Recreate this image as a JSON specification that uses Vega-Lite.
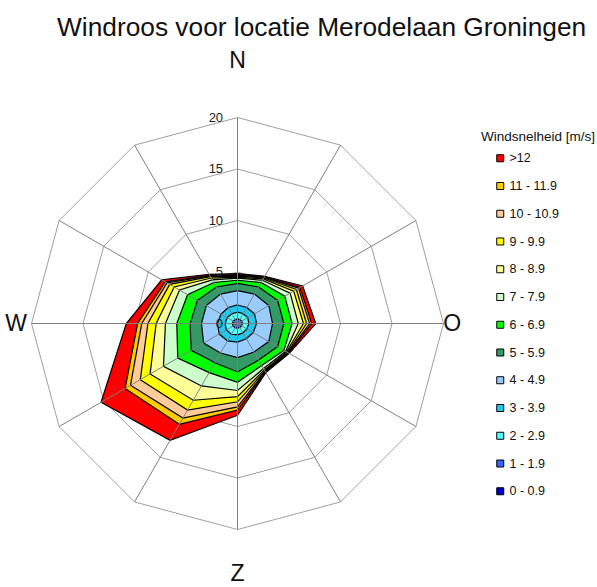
{
  "$schema": "https://vega.github.io/schema/vega-lite/v6.json",
  "width": 597,
  "height": 587,
  "autosize": {"type": "none"},
  "padding": 0,
  "background": "white",
  "config": {"view": {"stroke": null}, "font": "Liberation Sans"},
  "title": {
    "text": "Windroos voor locatie Merodelaan Groningen",
    "anchor": "start",
    "frame": "group",
    "dx": 57,
    "offset": -41,
    "fontSize": 26.3,
    "fontWeight": "normal",
    "font": "Liberation Sans",
    "color": "#111111"
  },
  "datasets": {
    "wind": [
      {"hoek": 0, "k0": 0.18, "k1": 0.45, "k2": 1.1, "k3": 1.8, "k4": 3.2, "k5": 3.9, "k6": 4.2, "k7": 4.4, "k8": 4.5, "k9": 4.6, "k10": 4.7, "k11": 4.75, "k12": 4.85},
      {"hoek": 30, "k0": 0.18, "k1": 0.45, "k2": 1.1, "k3": 1.8, "k4": 3.3, "k5": 4.1, "k6": 4.6, "k7": 4.85, "k8": 5.0, "k9": 5.1, "k10": 5.18, "k11": 5.23, "k12": 5.3},
      {"hoek": 60, "k0": 0.18, "k1": 0.47, "k2": 1.15, "k3": 1.9, "k4": 3.5, "k5": 4.5, "k6": 5.3, "k7": 5.9, "k8": 6.3, "k9": 6.6, "k10": 6.85, "k11": 7.0, "k12": 7.3},
      {"hoek": 90, "k0": 0.2, "k1": 0.47, "k2": 1.1, "k3": 1.85, "k4": 3.4, "k5": 4.5, "k6": 5.3, "k7": 5.9, "k8": 6.4, "k9": 6.7, "k10": 7.0, "k11": 7.2, "k12": 7.6},
      {"hoek": 120, "k0": 0.18, "k1": 0.45, "k2": 1.05, "k3": 1.75, "k4": 3.5, "k5": 4.5, "k6": 5.2, "k7": 5.4, "k8": 5.5, "k9": 5.6, "k10": 5.65, "k11": 5.7, "k12": 5.8},
      {"hoek": 150, "k0": 0.18, "k1": 0.45, "k2": 1.05, "k3": 1.7, "k4": 3.2, "k5": 4.1, "k6": 4.7, "k7": 5.05, "k8": 5.2, "k9": 5.3, "k10": 5.38, "k11": 5.44, "k12": 5.5},
      {"hoek": 180, "k0": 0.2, "k1": 0.45, "k2": 1.1, "k3": 1.8, "k4": 3.3, "k5": 4.7, "k6": 5.7, "k7": 6.5, "k8": 7.1, "k9": 7.6, "k10": 8.1, "k11": 8.4, "k12": 8.9},
      {"hoek": 210, "k0": 0.2, "k1": 0.47, "k2": 1.2, "k3": 1.95, "k4": 3.3, "k5": 4.4, "k6": 5.5, "k7": 7.0, "k8": 8.6, "k9": 9.7, "k10": 10.6, "k11": 11.3, "k12": 13.1},
      {"hoek": 240, "k0": 0.2, "k1": 0.5, "k2": 1.25, "k3": 2.05, "k4": 3.8, "k5": 5.2, "k6": 6.7, "k7": 8.3, "k8": 9.8, "k9": 10.9, "k10": 12.0, "k11": 12.6, "k12": 15.3},
      {"hoek": 270, "k0": 0.2, "k1": 0.5, "k2": 1.2, "k3": 1.95, "k4": 3.5, "k5": 4.6, "k6": 5.9, "k7": 7.0, "k8": 7.9, "k9": 8.7, "k10": 9.3, "k11": 9.7, "k12": 10.8},
      {"hoek": 300, "k0": 0.18, "k1": 0.47, "k2": 1.15, "k3": 1.85, "k4": 3.5, "k5": 4.5, "k6": 5.6, "k7": 6.5, "k8": 7.1, "k9": 7.6, "k10": 7.9, "k11": 8.1, "k12": 8.5},
      {"hoek": 330, "k0": 0.18, "k1": 0.45, "k2": 1.1, "k3": 1.8, "k4": 3.3, "k5": 4.1, "k6": 4.6, "k7": 4.9, "k8": 5.1, "k9": 5.25, "k10": 5.35, "k11": 5.4, "k12": 5.5}
    ],
    "richtingen": [
      {"hoek": 0, "ringen": [5, 10, 15, 20], "spaak": [0, 20]},
      {"hoek": 30, "ringen": [5, 10, 15, 20], "spaak": [0, 20]},
      {"hoek": 60, "ringen": [5, 10, 15, 20], "spaak": [0, 20]},
      {"hoek": 90, "ringen": [5, 10, 15, 20], "spaak": [0, 20]},
      {"hoek": 120, "ringen": [5, 10, 15, 20], "spaak": [0, 20]},
      {"hoek": 150, "ringen": [5, 10, 15, 20], "spaak": [0, 20]},
      {"hoek": 180, "ringen": [5, 10, 15, 20], "spaak": [0, 20]},
      {"hoek": 210, "ringen": [5, 10, 15, 20], "spaak": [0, 20]},
      {"hoek": 240, "ringen": [5, 10, 15, 20], "spaak": [0, 20]},
      {"hoek": 270, "ringen": [5, 10, 15, 20], "spaak": [0, 20]},
      {"hoek": 300, "ringen": [5, 10, 15, 20], "spaak": [0, 20]},
      {"hoek": 330, "ringen": [5, 10, 15, 20], "spaak": [0, 20]}
    ],
    "schaal": [{"v": 0}, {"v": 5}, {"v": 10}, {"v": 15}, {"v": 20}]
  },
  "layer": [
    {
      "data": {"name": "richtingen"},
      "transform": [
        {"flatten": ["ringen"], "as": ["ring"]},
        {"calculate": "datum.ring * sin(datum.hoek * PI / 180)", "as": "gx"},
        {"calculate": "datum.ring * cos(datum.hoek * PI / 180)", "as": "gy"}
      ],
      "mark": {"type": "line", "interpolate": "linear-closed", "stroke": "#a0a0a0", "strokeWidth": 1},
      "encoding": {
        "x": {"field": "gx", "type": "quantitative", "scale": {"domain": [-23.06, 34.9], "nice": false, "zero": false}, "axis": null},
        "y": {"field": "gy", "type": "quantitative", "scale": {"domain": [-25.58, 31.41], "nice": false, "zero": false}, "axis": null},
        "detail": {"field": "ring", "type": "nominal"},
        "order": {"field": "hoek", "type": "quantitative"}
      }
    },
    {
      "data": {"name": "wind"},
      "transform": [
        {"fold": ["k12", "k11", "k10", "k9", "k8", "k7", "k6", "k5", "k4", "k3", "k2", "k1", "k0"], "as": ["key", "r"]},
        {"lookup": "key", "from": {"data": {"values": [
          {"key": "k12", "label": ">12"},
          {"key": "k11", "label": "11 - 11.9"},
          {"key": "k10", "label": "10 - 10.9"},
          {"key": "k9", "label": "9 - 9.9"},
          {"key": "k8", "label": "8 - 8.9"},
          {"key": "k7", "label": "7 - 7.9"},
          {"key": "k6", "label": "6 - 6.9"},
          {"key": "k5", "label": "5 - 5.9"},
          {"key": "k4", "label": "4 - 4.9"},
          {"key": "k3", "label": "3 - 3.9"},
          {"key": "k2", "label": "2 - 2.9"},
          {"key": "k1", "label": "1 - 1.9"},
          {"key": "k0", "label": "0 - 0.9"}
        ]}, "key": "key", "fields": ["label"]}},
        {"calculate": "datum.r * sin(datum.hoek * PI / 180)", "as": "x"},
        {"calculate": "datum.r * cos(datum.hoek * PI / 180)", "as": "y"}
      ],
      "mark": {"type": "line", "interpolate": "linear-closed", "filled": true, "stroke": "black", "strokeWidth": 1.2, "fillOpacity": 1},
      "encoding": {
        "x": {"field": "x", "type": "quantitative"},
        "y": {"field": "y", "type": "quantitative"},
        "color": {
          "field": "label",
          "type": "nominal",
          "scale": {
            "domain": [">12", "11 - 11.9", "10 - 10.9", "9 - 9.9", "8 - 8.9", "7 - 7.9", "6 - 6.9", "5 - 5.9", "4 - 4.9", "3 - 3.9", "2 - 2.9", "1 - 1.9", "0 - 0.9"],
            "range": ["#ff0000", "#ffcc00", "#ffcc99", "#ffff00", "#ffff99", "#ccffcc", "#00ff00", "#339966", "#99ccff", "#22c8ee", "#55ffff", "#3366ff", "#0000cc"]
          },
          "legend": {
            "orient": "none",
            "legendX": 481,
            "legendY": 130,
            "title": "Windsnelheid [m/s]",
            "titleFont": "Liberation Sans",
            "titleFontSize": 13.5,
            "titleFontWeight": "normal",
            "titleColor": "#111111",
            "titlePadding": 8.5,
            "titleLimit": 300,
            "labelFont": "Liberation Sans",
            "labelFontSize": 12.5,
            "labelColor": "#111111",
            "labelOffset": 3,
            "symbolType": "square",
            "symbolSize": 49,
            "symbolStrokeColor": "black",
            "symbolStrokeWidth": 1,
            "symbolOffset": 13,
            "rowPadding": 14.75
          }
        },
        "order": {"field": "hoek", "type": "quantitative"}
      }
    },
    {
      "data": {"name": "richtingen"},
      "transform": [
        {"flatten": ["spaak"], "as": ["sr"]},
        {"calculate": "datum.sr * sin(datum.hoek * PI / 180)", "as": "sx"},
        {"calculate": "datum.sr * cos(datum.hoek * PI / 180)", "as": "sy"}
      ],
      "mark": {"type": "line", "stroke": "#808080", "strokeWidth": 1},
      "encoding": {
        "x": {"field": "sx", "type": "quantitative"},
        "y": {"field": "sy", "type": "quantitative"},
        "detail": {"field": "hoek", "type": "nominal"},
        "order": {"field": "sr", "type": "quantitative"}
      }
    },
    {
      "data": {"name": "schaal"},
      "mark": {"type": "text", "align": "right", "baseline": "middle", "fontSize": 13, "font": "Liberation Sans", "color": "#222222"},
      "encoding": {
        "x": {"datum": -1.4, "type": "quantitative"},
        "y": {"field": "v", "type": "quantitative"},
        "text": {"field": "v", "type": "quantitative"}
      }
    },
    {
      "data": {"values": [{"t": "N"}]},
      "mark": {"type": "text", "align": "center", "baseline": "middle", "fontSize": 23, "font": "Liberation Sans", "color": "#111111"},
      "encoding": {"x": {"datum": 0, "type": "quantitative"}, "y": {"datum": 25.5, "type": "quantitative"}, "text": {"field": "t", "type": "nominal"}}
    },
    {
      "data": {"values": [{"t": "O"}]},
      "mark": {"type": "text", "align": "center", "baseline": "middle", "fontSize": 23, "font": "Liberation Sans", "color": "#111111"},
      "encoding": {"x": {"datum": 20.83, "type": "quantitative"}, "y": {"datum": 0, "type": "quantitative"}, "text": {"field": "t", "type": "nominal"}}
    },
    {
      "data": {"values": [{"t": "Z"}]},
      "mark": {"type": "text", "align": "center", "baseline": "middle", "fontSize": 23, "font": "Liberation Sans", "color": "#111111"},
      "encoding": {"x": {"datum": 0, "type": "quantitative"}, "y": {"datum": -24.3, "type": "quantitative"}, "text": {"field": "t", "type": "nominal"}}
    },
    {
      "data": {"values": [{"t": "W"}]},
      "mark": {"type": "text", "align": "center", "baseline": "middle", "fontSize": 23, "font": "Liberation Sans", "color": "#111111"},
      "encoding": {"x": {"datum": -21.5, "type": "quantitative"}, "y": {"datum": 0, "type": "quantitative"}, "text": {"field": "t", "type": "nominal"}}
    }
  ]
}
